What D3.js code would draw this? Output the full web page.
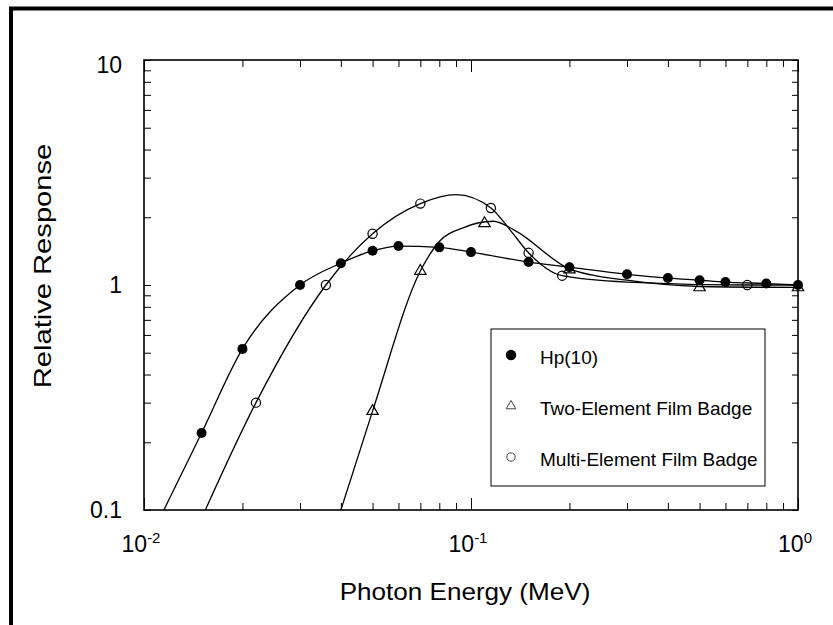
<!DOCTYPE html>
<html>
<head>
<meta charset="utf-8">
<script src="https://cdn.jsdelivr.net/npm/d3@7"></script>
<style>
body { margin: 0; background: #fff; }
svg { display: block; font-family: "Liberation Sans", Arial, sans-serif; }
</style>
</head>
<body>
<svg width="833" height="625"></svg>
<script>
// measured points
var hpEnergy = [0.015, 0.02, 0.03, 0.04, 0.05, 0.06, 0.08, 0.1, 0.15, 0.2, 0.3, 0.4, 0.5, 0.6, 0.8, 1.0];
var hpResponse = [0.22, 0.52, 1.0, 1.25, 1.42, 1.49, 1.47, 1.40, 1.265, 1.20, 1.116, 1.074, 1.05, 1.03, 1.015, 1.0];
var twoEnergy = [0.05, 0.07, 0.11, 0.2, 0.5, 1.0];
var twoResponse = [0.275, 1.154, 1.88, 1.17, 0.975, 0.975];
var multiEnergy = [0.022, 0.036, 0.05, 0.07, 0.115, 0.15, 0.19, 0.7];
var multiResponse = [0.30, 1.0, 1.69, 2.30, 2.20, 1.39, 1.10, 1.0];

// fitted curves
var hpCurveE = [0.0115, 0.015, 0.02, 0.03, 0.04, 0.05, 0.06, 0.08, 0.1, 0.15, 0.2, 0.3, 0.4, 0.5, 0.6, 0.8, 1.0];
var hpCurveR = [0.1, 0.22, 0.52, 1.0, 1.25, 1.42, 1.49, 1.47, 1.40, 1.265, 1.20, 1.116, 1.074, 1.05, 1.03, 1.015, 1.0];
var twoCurveE = [0.04, 0.05, 0.07, 0.08, 0.095, 0.117, 0.136, 0.2, 0.3, 0.5, 1.0];
var twoCurveR = [0.1, 0.275, 1.154, 1.56, 1.8, 1.92, 1.75, 1.18, 1.05, 0.985, 0.975];
var multiCurveE = [0.0154, 0.022, 0.036, 0.05, 0.07, 0.09, 0.115, 0.132, 0.15, 0.19, 0.3, 0.7, 1.0];
var multiCurveR = [0.1, 0.30, 1.0, 1.69, 2.30, 2.52, 2.20, 1.75, 1.39, 1.10, 1.03, 1.0, 1.0];

var xMajor = [0.01, 0.1, 1];
var xExp = ["-2", "-1", "0"];
var yMajor = [0.1, 1, 10];
var yLabels = ["0.1", "1", "10"];
var legendNames = ["Hp(10)", "Two-Element Film Badge", "Multi-Element Film Badge"];

var svg = d3.select("svg"),
    margin = {top: 60, right: 35, bottom: 115, left: 144},
    width = 833 - margin.left - margin.right,
    height = 625 - margin.top - margin.bottom,
    g = svg.append("g").attr("transform", "translate(" + margin.left + "," + margin.top + ")");

var x = d3.scaleLog().domain([0.01, 1]).range([0, width]),
    y = d3.scaleLog().domain([0.1, 10]).range([height, 0]);

// outer frame (only top and left edges visible)
svg.append("line").attr("x1", 9).attr("x2", 833).attr("y1", 8.5).attr("y2", 8.5)
    .attr("stroke", "#000").attr("stroke-width", 4);
svg.append("line").attr("x1", 11).attr("x2", 11).attr("y1", 7).attr("y2", 625)
    .attr("stroke", "#000").attr("stroke-width", 4);

function zip(a, b) { return a.map(function(v, i) { return {e: v, r: b[i]}; }); }

g.append("clipPath").attr("id", "clip")
  .append("rect").attr("width", width).attr("height", height);

// ticks
var xMinor = x.ticks().filter(function(d) { return xMajor.indexOf(d) < 0; });

g.append("g").attr("transform", "translate(0," + height + ")")
    .call(d3.axisBottom(x).tickValues(xMinor).tickSize(-7).tickFormat(""));
g.append("g").attr("transform", "translate(0," + height + ")")
    .call(d3.axisBottom(x).tickValues(xMajor).tickSize(-12).tickFormat(""));
g.append("g")
    .call(d3.axisTop(x).tickValues(xMinor).tickSize(-7).tickFormat(""));
g.append("g")
    .call(d3.axisTop(x).tickValues(xMajor).tickSize(-12).tickFormat(""));
g.append("g")
    .call(d3.axisLeft(y).tickValues(y.ticks()).tickSize(-7).tickFormat(""));
g.append("g").attr("transform", "translate(" + width + ",0)")
    .call(d3.axisRight(y).tickValues(y.ticks()).tickSize(-6).tickFormat(""));
g.selectAll(".domain").remove();
g.selectAll(".tick line").attr("stroke", "#000").attr("stroke-width", 1);

g.append("rect").attr("width", width).attr("height", height)
    .attr("fill", "none").attr("stroke", "#000").attr("stroke-width", 1.6);

// tick labels
g.selectAll(".ylab").data(yMajor).enter().append("text")
    .attr("x", -22).attr("y", function(d) { return y(d); })
    .attr("dy", function(d) { return d === 10 ? "0.55em" : "0.35em"; })
    .attr("text-anchor", "end")
    .style("font-size", "23px")
    .text(function(d, i) { return yLabels[i]; });

var xl = g.selectAll(".xlab").data(xMajor).enter().append("text")
    .attr("x", function(d) { return x(d) - 3; }).attr("y", height + 42)
    .attr("text-anchor", "middle")
    .style("font-size", "23px");
xl.append("tspan").text("10");
xl.append("tspan").attr("dy", -9).style("font-size", "15px")
    .text(function(d, i) { return xExp[i]; });

// axis titles (the original lettering is a little wider than Arial)
svg.append("text").attr("transform", "translate(465,600) scale(1.11,1)")
    .attr("text-anchor", "middle")
    .style("font-size", "23.5px").text("Photon Energy (MeV)");
svg.append("text").attr("transform", "translate(51,266) rotate(-90) scale(1.19,1)")
    .attr("text-anchor", "middle")
    .style("font-size", "24.5px").text("Relative Response");

// curves
var line = d3.line()
    .curve(d3.curveMonotoneX)
    .x(function(d) { return x(d.e); })
    .y(function(d) { return y(d.r); });

var curves = [zip(hpCurveE, hpCurveR), zip(twoCurveE, twoCurveR), zip(multiCurveE, multiCurveR)];
g.append("g").attr("clip-path", "url(#clip)")
  .selectAll("path").data(curves).enter().append("path")
    .attr("d", line)
    .attr("fill", "none").attr("stroke", "#000").attr("stroke-width", 1.3);

// markers
g.selectAll(".hp").data(zip(hpEnergy, hpResponse)).enter().append("circle")
    .attr("cx", function(d) { return x(d.e); })
    .attr("cy", function(d) { return y(d.r); })
    .attr("r", 5).attr("fill", "#000");

var tri = d3.symbol().type(d3.symbolTriangle).size(56);
g.selectAll(".two").data(zip(twoEnergy, twoResponse)).enter().append("path")
    .attr("d", tri)
    .attr("transform", function(d) { return "translate(" + x(d.e) + "," + y(d.r) + ")"; })
    .attr("fill", "none").attr("stroke", "#000").attr("stroke-width", 1.2);

g.selectAll(".multi").data(zip(multiEnergy, multiResponse)).enter().append("circle")
    .attr("cx", function(d) { return x(d.e); })
    .attr("cy", function(d) { return y(d.r); })
    .attr("r", 4.6).attr("fill", "none").attr("stroke", "#000").attr("stroke-width", 1.2);

// legend
var legend = svg.append("g");
legend.append("rect").attr("x", 491).attr("y", 329).attr("width", 274).attr("height", 157)
    .attr("fill", "#fff").attr("stroke", "#000").attr("stroke-width", 1);

var rows = legend.selectAll(".row").data(legendNames).enter().append("g")
    .attr("transform", function(d, i) { return "translate(511," + (355 + i * 51) + ")"; });
rows.append("text").attr("x", 29).attr("y", 9)
    .style("font-size", "19px")
    .text(function(d) { return d; });
rows.filter(function(d, i) { return i === 0; }).append("circle")
    .attr("r", 5.2).attr("fill", "#000");
rows.filter(function(d, i) { return i === 1; }).append("path")
    .attr("d", d3.symbol().type(d3.symbolTriangle).size(40))
    .attr("fill", "none").attr("stroke", "#444").attr("stroke-width", 1);
rows.filter(function(d, i) { return i === 2; }).append("circle")
    .attr("r", 4.2).attr("fill", "none").attr("stroke", "#444").attr("stroke-width", 1);
</script>
</body>
</html>
